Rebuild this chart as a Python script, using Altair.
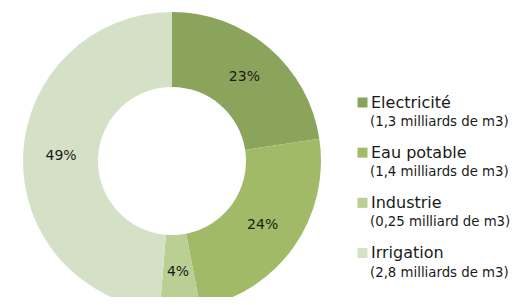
import altair as alt
import pandas as pd

categories = ["Electricité", "Eau potable", "Industrie", "Irrigation"]
values = [1.3, 1.4, 0.25, 2.8]
details = ["(1,3 milliards de m3)", "(1,4 milliards de m3)",
           "(0,25 milliard de m3)", "(2,8 milliards de m3)"]
colors = ["#8aa45c", "#a0ba68", "#bacf93", "#d5e1c6"]

df = pd.DataFrame({
    "cat": categories,
    "value": values,
    "detail": details,
    "order": list(range(len(categories))),
})

FONT = "DejaVu Sans"
CX, CY = 164, 153
color = alt.Color("cat:N", scale=alt.Scale(domain=categories, range=colors), legend=None)

base = alt.Chart(df).transform_joinaggregate(total="sum(value)").transform_calculate(
    pct="round(datum.value / datum.total * 100) + '%'"
)

arcs = base.mark_arc(innerRadius=74, outerRadius=149).encode(
    theta=alt.Theta("value:Q", stack=True),
    order=alt.Order("order:Q"),
    color=color,
    x=alt.value(CX), y=alt.value(CY),
)

labels = base.mark_text(radius=111, font=FONT, fontSize=14, color="#1a1a1a").encode(
    theta=alt.Theta("value:Q", stack=True),
    order=alt.Order("order:Q"),
    text="pct:N",
    x=alt.value(CX), y=alt.value(CY),
)

ypos = alt.Y("cat:N", sort=categories,
             scale=alt.Scale(type="point", domain=categories, range=[94.5, 245], padding=0),
             axis=None)

squares = alt.Chart(df).mark_square(size=100, opacity=1).encode(
    x=alt.value(354.5), y=ypos, color=color,
)
line1 = alt.Chart(df).mark_text(align="left", baseline="middle", font=FONT, fontSize=16,
                                color="#1a1a1a").encode(
    x=alt.value(363), y=ypos, text="cat:N",
)
line2 = alt.Chart(df).mark_text(align="left", baseline="middle", font=FONT, fontSize=13.3,
                                color="#1a1a1a", dy=19.5).encode(
    x=alt.value(362), y=ypos, text="detail:N",
)

chart = alt.layer(arcs, labels, squares, line1, line2).properties(
    width=504, height=289, padding=0, autosize=alt.AutoSizeParams(type="none"),
).configure_view(stroke=None)

chart.save("out.html", embed_options={"renderer": "svg", "actions": False})
